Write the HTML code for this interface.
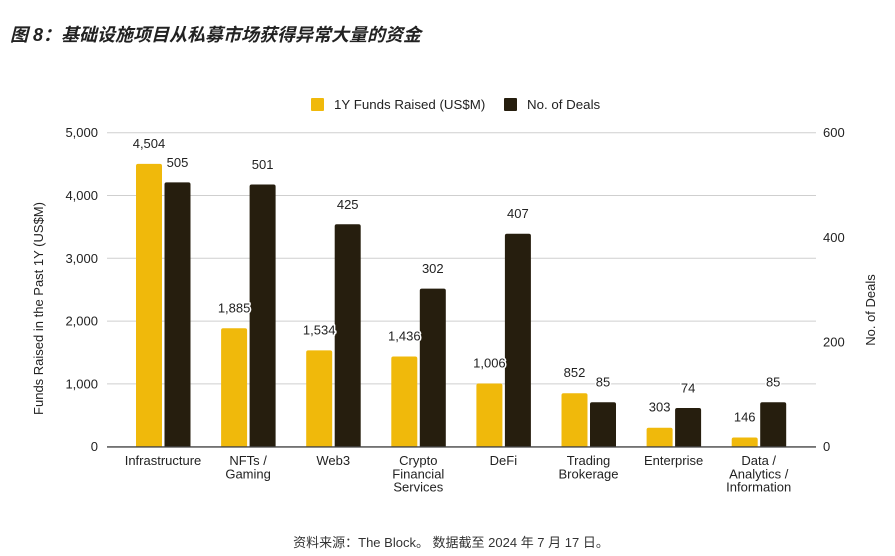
<!DOCTYPE html>
<html>
<head>
<meta charset="utf-8">
<style>
  html, body { margin:0; padding:0; background:#fff; }
  body { width:895px; height:556px; overflow:hidden; }
  svg { display:block; }
  .t { font-family:"Liberation Sans","Noto Sans CJK SC",sans-serif; fill:#222; }
  .lbl { font-size:13px; text-anchor:middle; paint-order:stroke; stroke:#fff; stroke-width:3px; stroke-linejoin:round; }
  .tick { font-size:13px; }
  .cat { font-size:13px; text-anchor:middle; }
</style>
</head>
<body>
<svg width="895" height="556" viewBox="0 0 895 556" xmlns="http://www.w3.org/2000/svg">
  <rect width="895" height="556" fill="#fff"/>
  <!-- Title -->
  <text class="t" x="10" y="41" style="font-size:18px;font-weight:bold;font-style:italic;fill:#222">图 8：基础设施项目从私募市场获得异常大量的资金</text>

  <!-- Legend -->
  <rect x="311" y="98" width="13" height="13" rx="1" fill="#F0B90B"/>
  <text class="t" x="334" y="109" style="font-size:13.3px">1Y Funds Raised (US$M)</text>
  <rect x="504" y="98" width="13" height="13" rx="1" fill="#261E0E"/>
  <text class="t" x="527" y="109" style="font-size:13.3px">No. of Deals</text>

  <!-- Gridlines -->
  <g stroke="#cfcfcf" stroke-width="1">
    <line x1="107" x2="816" y1="132.7" y2="132.7"/>
    <line x1="107" x2="816" y1="195.5" y2="195.5"/>
    <line x1="107" x2="816" y1="258.3" y2="258.3"/>
    <line x1="107" x2="816" y1="321.1" y2="321.1"/>
    <line x1="107" x2="816" y1="383.9" y2="383.9"/>
  </g>

  <!-- Left tick labels -->
  <g class="t tick" text-anchor="end">
    <text x="98" y="137.2">5,000</text>
    <text x="98" y="200">4,000</text>
    <text x="98" y="262.8">3,000</text>
    <text x="98" y="325.6">2,000</text>
    <text x="98" y="388.4">1,000</text>
    <text x="98" y="451.2">0</text>
  </g>
  <!-- Right tick labels -->
  <g class="t tick" text-anchor="start">
    <text x="823" y="137.2">600</text>
    <text x="823" y="241.9">400</text>
    <text x="823" y="346.6">200</text>
    <text x="823" y="451.2">0</text>
  </g>

  <!-- Axis titles -->
  <text class="t" transform="translate(43,308.5) rotate(-90)" text-anchor="middle" style="font-size:13px">Funds Raised in the Past 1Y (US$M)</text>
  <text class="t" transform="translate(875,310) rotate(-90)" text-anchor="middle" style="font-size:13px">No. of Deals</text>

  <!-- Yellow bars -->
  <g fill="#F0B90B">
    <path d="M136,446.7 V165.85 Q136,163.85 138,163.85 H160 Q162,163.85 162,165.85 V446.7 Z"/>
    <path d="M221.1,446.7 V330.3 Q221.1,328.3 223.1,328.3 H245.1 Q247.1,328.3 247.1,330.3 V446.7 Z"/>
    <path d="M306.2,446.7 V352.4 Q306.2,350.4 308.2,350.4 H330.2 Q332.2,350.4 332.2,352.4 V446.7 Z"/>
    <path d="M391.3,446.7 V358.5 Q391.3,356.5 393.3,356.5 H415.3 Q417.3,356.5 417.3,358.5 V446.7 Z"/>
    <path d="M476.4,446.7 V385.5 Q476.4,383.5 478.4,383.5 H500.4 Q502.4,383.5 502.4,385.5 V446.7 Z"/>
    <path d="M561.5,446.7 V395.2 Q561.5,393.2 563.5,393.2 H585.5 Q587.5,393.2 587.5,395.2 V446.7 Z"/>
    <path d="M646.6,446.7 V429.7 Q646.6,427.7 648.6,427.7 H670.6 Q672.6,427.7 672.6,429.7 V446.7 Z"/>
    <path d="M731.7,446.7 V439.5 Q731.7,437.5 733.7,437.5 H755.7 Q757.7,437.5 757.7,439.5 V446.7 Z"/>
  </g>
  <!-- Dark bars -->
  <g fill="#261E0E">
    <path d="M164.5,446.7 V184.4 Q164.5,182.4 166.5,182.4 H188.5 Q190.5,182.4 190.5,184.4 V446.7 Z"/>
    <path d="M249.6,446.7 V186.5 Q249.6,184.5 251.6,184.5 H273.6 Q275.6,184.5 275.6,186.5 V446.7 Z"/>
    <path d="M334.7,446.7 V226.3 Q334.7,224.3 336.7,224.3 H358.7 Q360.7,224.3 360.7,226.3 V446.7 Z"/>
    <path d="M419.8,446.7 V290.65 Q419.8,288.65 421.8,288.65 H443.8 Q445.8,288.65 445.8,290.65 V446.7 Z"/>
    <path d="M504.9,446.7 V235.7 Q504.9,233.7 506.9,233.7 H528.9 Q530.9,233.7 530.9,235.7 V446.7 Z"/>
    <path d="M590,446.7 V404.2 Q590,402.2 592,402.2 H614 Q616,402.2 616,404.2 V446.7 Z"/>
    <path d="M675.1,446.7 V410 Q675.1,408 677.1,408 H699.1 Q701.1,408 701.1,410 V446.7 Z"/>
    <path d="M760.2,446.7 V404.2 Q760.2,402.2 762.2,402.2 H784.2 Q786.2,402.2 786.2,404.2 V446.7 Z"/>
  </g>

  <!-- Baseline -->
  <line x1="107" x2="816" y1="446.9" y2="446.9" stroke="#444" stroke-width="1.4"/>

  <!-- Yellow labels -->
  <g class="t lbl">
    <text x="149" y="147.85">4,504</text>
    <text x="234.1" y="312.3">1,885</text>
    <text x="319.2" y="334.4">1,534</text>
    <text x="404.3" y="340.5">1,436</text>
    <text x="489.4" y="367.5">1,006</text>
    <text x="574.5" y="377.2">852</text>
    <text x="659.6" y="411.7">303</text>
    <text x="744.7" y="421.5">146</text>
  </g>
  <!-- Dark labels -->
  <g class="t lbl">
    <text x="177.5" y="166.9">505</text>
    <text x="262.6" y="169">501</text>
    <text x="347.7" y="208.8">425</text>
    <text x="432.8" y="273.15">302</text>
    <text x="517.9" y="218.2">407</text>
    <text x="603" y="386.7">85</text>
    <text x="688.1" y="392.5">74</text>
    <text x="773.2" y="386.7">85</text>
  </g>

  <!-- Category labels -->
  <g class="t cat">
    <text x="163" y="465">Infrastructure</text>
    <text x="248.1" y="465">NFTs /</text>
    <text x="248.1" y="478.3">Gaming</text>
    <text x="333.2" y="465">Web3</text>
    <text x="418.3" y="465">Crypto</text>
    <text x="418.3" y="478.3">Financial</text>
    <text x="418.3" y="491.6">Services</text>
    <text x="503.4" y="465">DeFi</text>
    <text x="588.5" y="465">Trading</text>
    <text x="588.5" y="478.3">Brokerage</text>
    <text x="673.6" y="465">Enterprise</text>
    <text x="758.7" y="465">Data /</text>
    <text x="758.7" y="478.3">Analytics /</text>
    <text x="758.7" y="491.6">Information</text>
  </g>

  <!-- Source -->
  <text class="t" x="451" y="547" text-anchor="middle" style="font-size:13px;fill:#333">资料来源：The Block。 数据截至 2024 年 7 月 17 日。</text>
</svg>
</body>
</html>
